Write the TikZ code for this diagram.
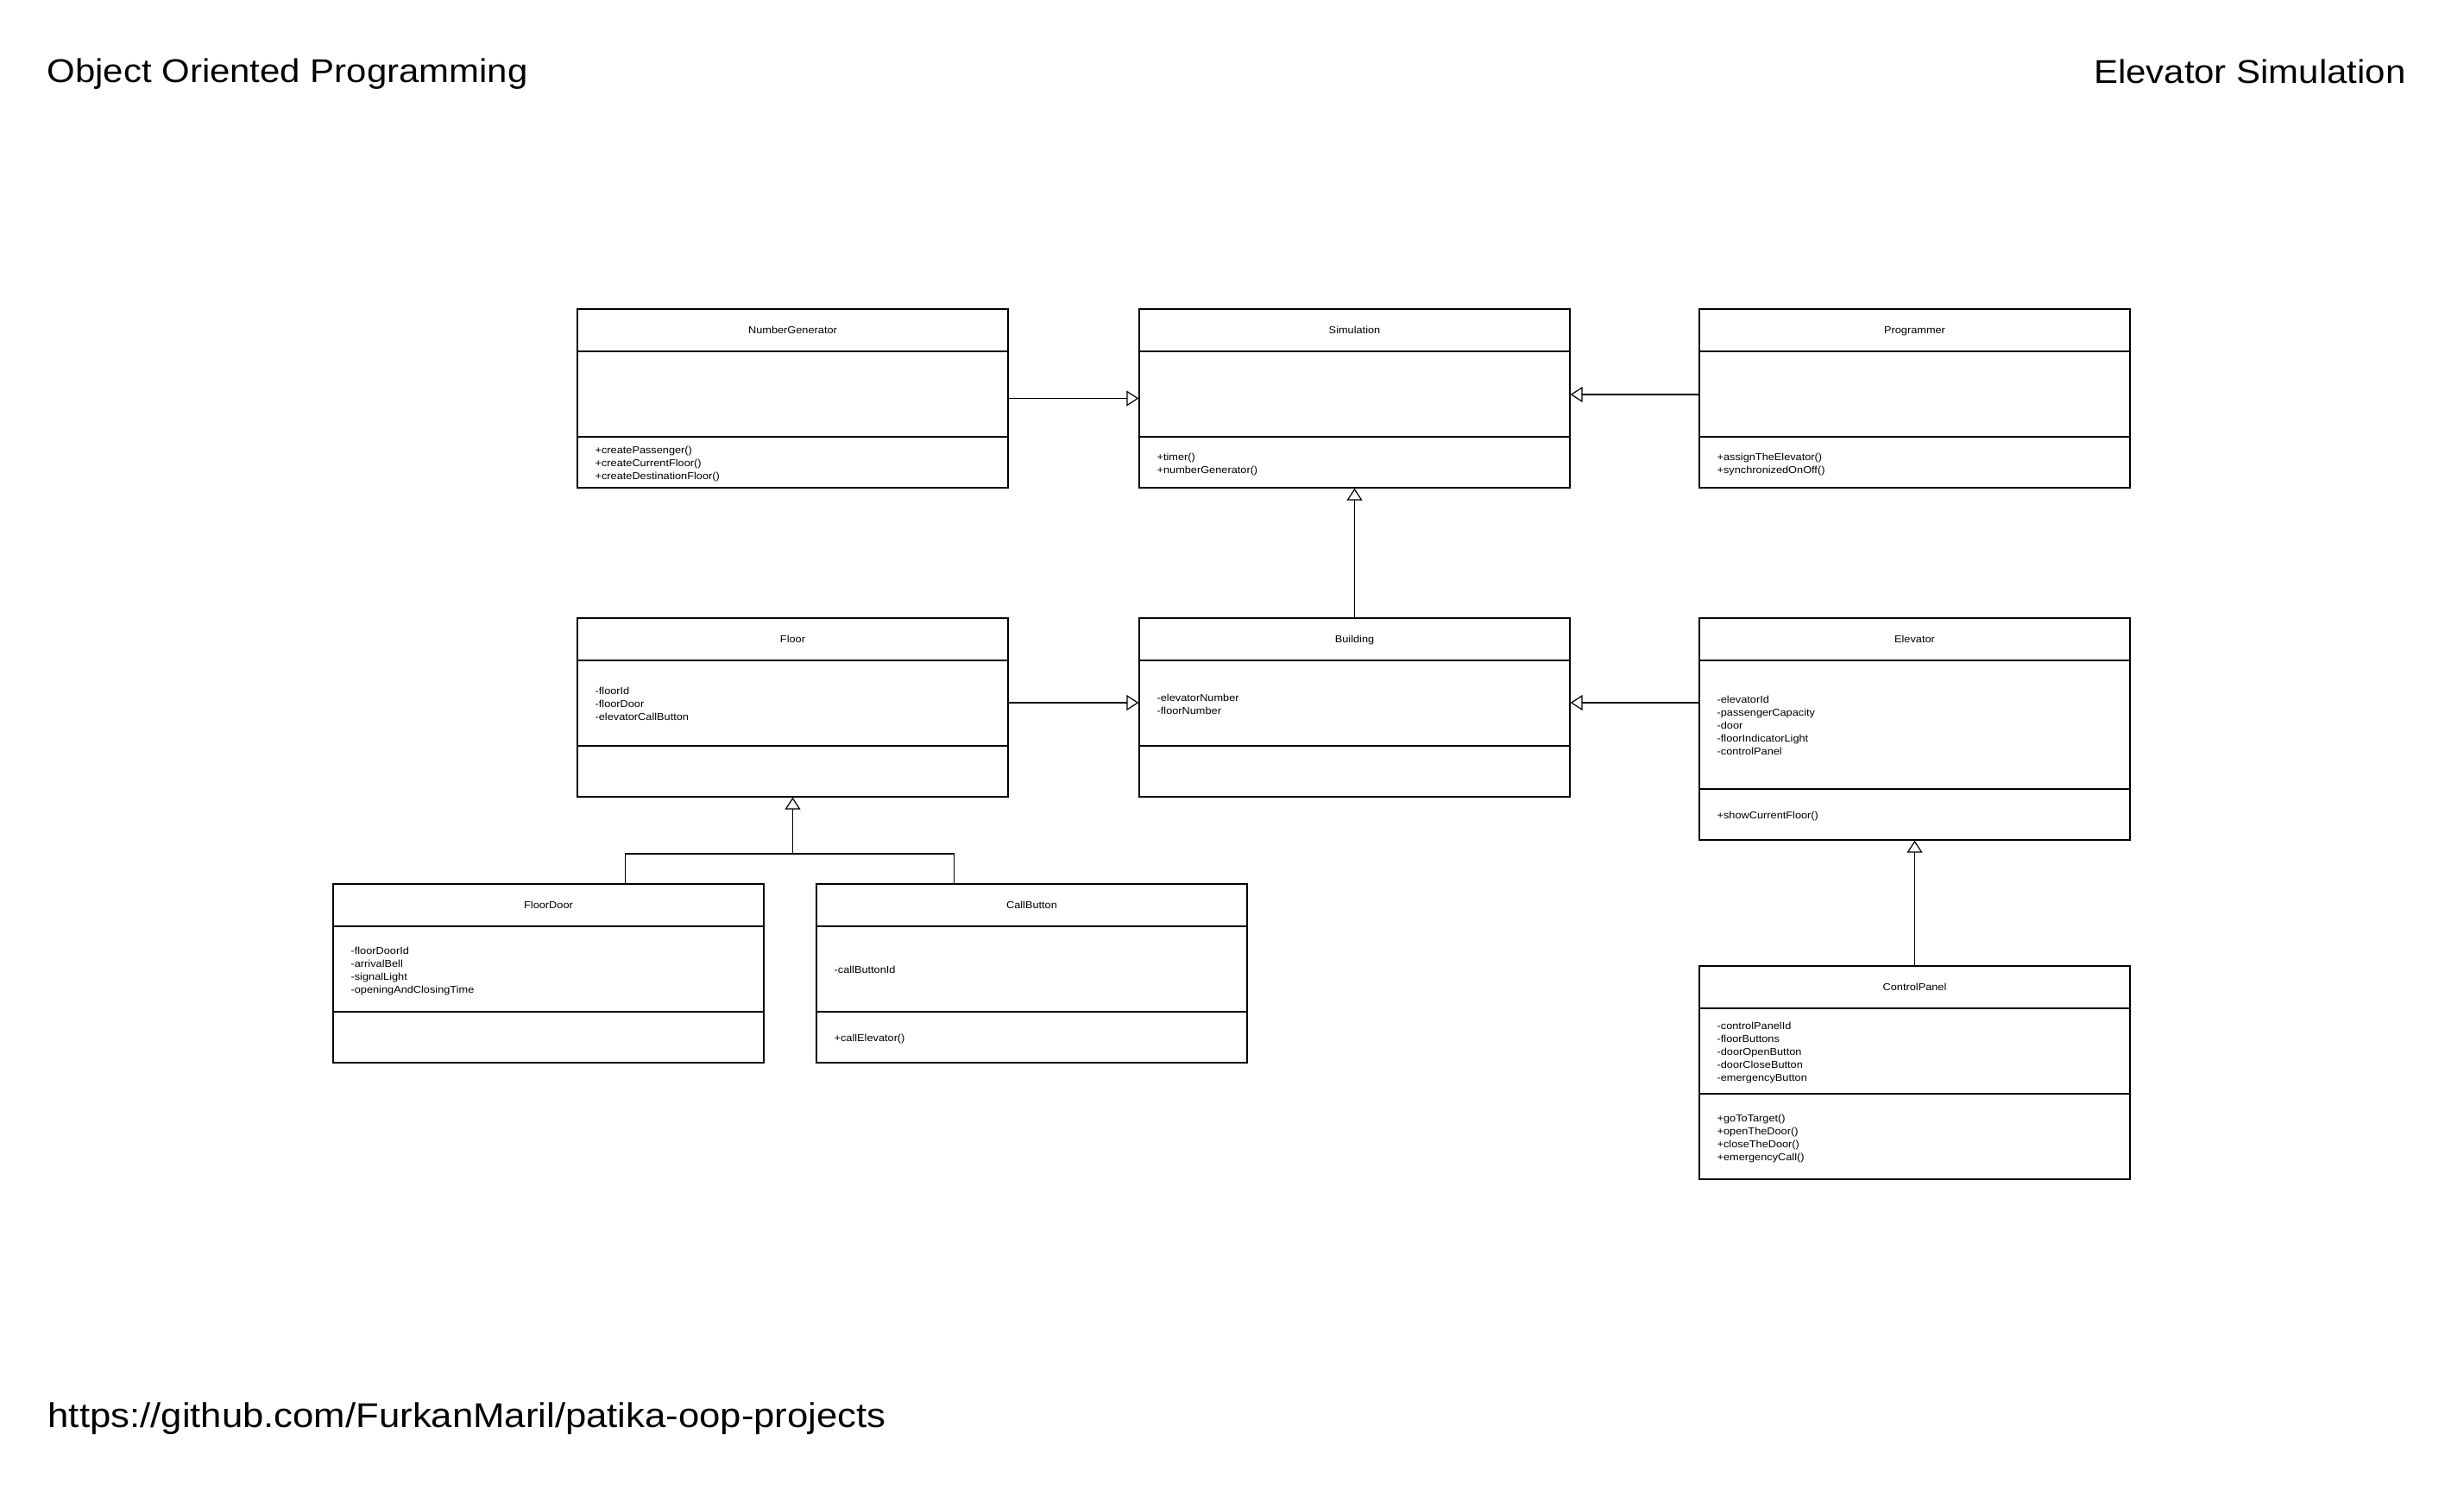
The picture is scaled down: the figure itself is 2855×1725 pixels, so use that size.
\documentclass[tikz,border=0pt]{standalone}
\usepackage{fontspec}
\setmainfont{Liberation Sans}[FakeStretch=1.1]
\usetikzlibrary{arrows.meta,fit}
\newcommand\lines[1]{\begin{tabular}[t]{@{}l@{}}#1\end{tabular}}
% #1 name, #2 left, #3 top, #4 header h, #5 attribute h, #6 method h, #7 title
\newcommand\classbox[7]{%
  \node[draw, inner sep=0pt, fit={(#2,#3) (#2+499,#3+#4+#5+#6)}] (#1) {};
  \draw (#2,#3+#4) -- (#2+499,#3+#4);
  \draw (#2,#3+#4+#5) -- (#2+499,#3+#4+#5);
  \node[cname] (#1-title) at (#2+249.5,#3+#4/2+4.2) {#7};
}
\begin{document}
\begin{tikzpicture}[x=0.02cm,y=-0.02cm,line width=0.7pt,
  cname/.style={anchor=base,inner sep=0pt,font=\fontsize{6.6}{8.535}\selectfont},
  ctext/.style={anchor=base west,inner sep=0pt,font=\fontsize{6.6}{8.535}\selectfont},
  head/.style={inner sep=0pt,font=\fontsize{21.7}{26}\selectfont},
  inh/.style={-{Triangle[open,length=8pt,width=10.2pt]}}]
\fill[white] (0,0) rectangle (2855,1725);
\useasboundingbox (0,0) rectangle (2855,1725);

% headings
\node[head,anchor=base west] (t1) at (54,95) {Object Oriented Programming};
\node[head,anchor=base east] (t2) at (2788,96) {Elevator Simulation};
\node[head,anchor=base west,font=\fontsize{22.6}{26}\selectfont] (url) at (55,1653) {https://github.com/FurkanMaril/patika-oop-projects};

% row 1
\classbox{ng}{669}{358}{49}{99}{59}{NumberGenerator}
\node[ctext] (ng-m) at (689,525.5) {\lines{+createPassenger()\\+createCurrentFloor()\\+createDestinationFloor()}};
\classbox{sim}{1320}{358}{49}{99}{59}{Simulation}
\node[ctext] (sim-m) at (1340,533) {\lines{+timer()\\+numberGenerator()}};
\classbox{prog}{1969}{358}{49}{99}{59}{Programmer}
\node[ctext] (prog-m) at (1989,533) {\lines{+assignTheElevator()\\+synchronizedOnOff()}};

% row 2
\classbox{floor}{669}{716}{49}{99}{59}{Floor}
\node[ctext] (floor-a) at (689,804.5) {\lines{-floorId\\-floorDoor\\-elevatorCallButton}};
\classbox{bld}{1320}{716}{49}{99}{59}{Building}
\node[ctext] (bld-a) at (1340,812) {\lines{-elevatorNumber\\-floorNumber}};
\classbox{elev}{1969}{716}{49}{149}{59}{Elevator}
\node[ctext] (elev-a) at (1989,814.5) {\lines{-elevatorId\\-passengerCapacity\\-door\\-floorIndicatorLight\\-controlPanel}};
\node[ctext] (elev-m) at (1989,948.5) {\lines{+showCurrentFloor()}};

% row 3
\classbox{fd}{386}{1024}{49}{99}{59}{FloorDoor}
\node[ctext] (fd-a) at (406,1105) {\lines{-floorDoorId\\-arrivalBell\\-signalLight\\-openingAndClosingTime}};
\classbox{cb}{946}{1024}{49}{99}{59}{CallButton}
\node[ctext] (cb-a) at (966,1127.5) {\lines{-callButtonId}};
\node[ctext] (cb-m) at (966,1206.5) {\lines{+callElevator()}};
\classbox{cp}{1969}{1119}{49}{99}{99}{ControlPanel}
\node[ctext] (cp-a) at (1989,1192.5) {\lines{-controlPanelId\\-floorButtons\\-doorOpenButton\\-doorCloseButton\\-emergencyButton}};
\node[ctext] (cp-m) at (1989,1299) {\lines{+goToTarget()\\+openTheDoor()\\+closeTheDoor()\\+emergencyCall()}};

% connectors
\draw[inh] (ng.east) -- (sim.west);
\draw[inh] (prog.west |- 0,457) -- (sim.east |- 0,457);
\draw[inh] (bld.north) -- (sim.south);
\draw[inh] (floor.east |- 0,814) -- (bld.west |- 0,814);
\draw[inh] (elev.west |- 0,814) -- (bld.east |- 0,814);
\coordinate (join) at (floor.south |- 0,989);
\draw (fd.north west) ++(339,0) |- (join);
\draw (cb.north west) ++(160,0) |- (join);
\draw[inh] (join) -- (floor.south);
\draw[inh] (cp.north) -- (elev.south);
\end{tikzpicture}
\end{document}
